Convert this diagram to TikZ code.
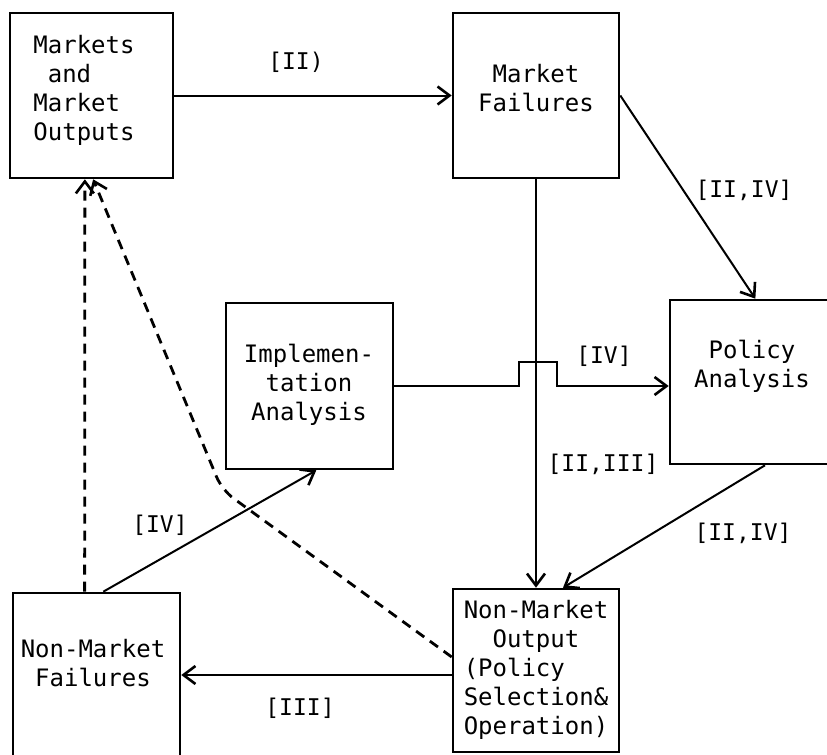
\documentclass[tikz,border=0pt]{standalone}
\usepackage{fontspec}
\setmainfont{DejaVu Sans Mono}
\usetikzlibrary{arrows.meta,calc}
\begin{document}
\begin{tikzpicture}[x=0.5pt,y=-0.5pt,
 box/.style={draw,line width=1.3pt,inner sep=0pt},
 txt/.style={font=\fontsize{12}{14.5}\selectfont,inner sep=0pt,align=center},
 lbl/.style={font=\fontsize{11.5}{14}\selectfont,inner sep=0pt},
 arr/.style={line width=1pt,-{Straight Barb[length=6pt,width=9pt,line width=1.3pt]}},
 dsh/.style={arr,line width=1.4pt,dash pattern=on 5pt off 3.5pt}]
\useasboundingbox (0,0) rectangle (827,755);
\clip (0,0) rectangle (827,755);
% boxes
\node[box,minimum width=81.5pt,minimum height=82.5pt] (M) at (91.5,95.5) {};
\node[box,minimum width=83pt,minimum height=82.5pt] (MF) at (536,95.5) {};
\node[box,minimum width=83.5pt,minimum height=83pt] (IA) at (309.5,386) {};
\node[box,minimum width=95pt,minimum height=82pt] (PA) at (765,382) {};
\node[box,minimum width=83pt,minimum height=81.5pt] (NMO) at (536,670.5) {};
\node[box,minimum width=83.5pt,minimum height=98.5pt] (NMF) at (96.5,691.5) {};
% box texts
\node[txt,align=left] (tM) at (84,90) {Markets\\\hspace*{0.6em}and\\Market\\Outputs};
\node[txt] (tMF) at (536,88) {Market\\Failures};
\node[txt] (tIA) at (309,385) {Implemen-\\tation\\Analysis};
\node[txt] (tPA) at (752,366) {Policy\\Analysis};
\node[txt] (tNMF) at (93,663) {Non-Market\\Failures};
\node[txt,align=left] (tNMO) at (536,670) {Non-Market\\\hspace*{1.2em}Output\\(Policy\\Selection\&\\Operation)};
% labels
\node[lbl] (l1) at (296,62) {[II)};
\node[lbl] (l2) at (744,190) {[II,IV]};
\node[lbl] (l3) at (604,356) {[IV]};
\node[lbl] (l4) at (603,464) {[II,III]};
\node[lbl] (l5) at (743,533) {[II,IV]};
\node[lbl] (l6) at (160,525) {[IV]};
\node[lbl] (l7) at (300,708) {[III]};
% connectors
\draw[arr] (M.east) -- (MF.west);
\draw[arr] (MF.east) -- ($(PA.north west)!0.45!(PA.north east)$);
\draw[arr] (MF.south) -- (NMO.north);
\draw[arr] (IA.east) -- ++(125,0) -- ++(0,-24) -- ++(38,0) -- ++(0,24) -- (PA.west |- IA.east);
\draw[arr] (PA.south) -- ($(NMO.north west)!0.66!(NMO.north east)$);
\draw[arr] (NMO.west |- 0,675) -- (NMF.east |- 0,675);
\draw[arr] ($(NMF.north west)!0.54!(NMF.north east)$) -- ($(IA.south west)!0.54!(IA.south east)$);
\draw[dsh] ($(NMF.north west)!0.43!(NMF.north east)$) -- ($(M.south west)!0.46!(M.south east)$);
\coordinate (k) at (222,490);
\draw[dsh,rounded corners=7pt] (NMO.west |- 0,657) -- (k) -- ($(M.south west)!0.51!(M.south east)$);
\end{tikzpicture}
\end{document}
